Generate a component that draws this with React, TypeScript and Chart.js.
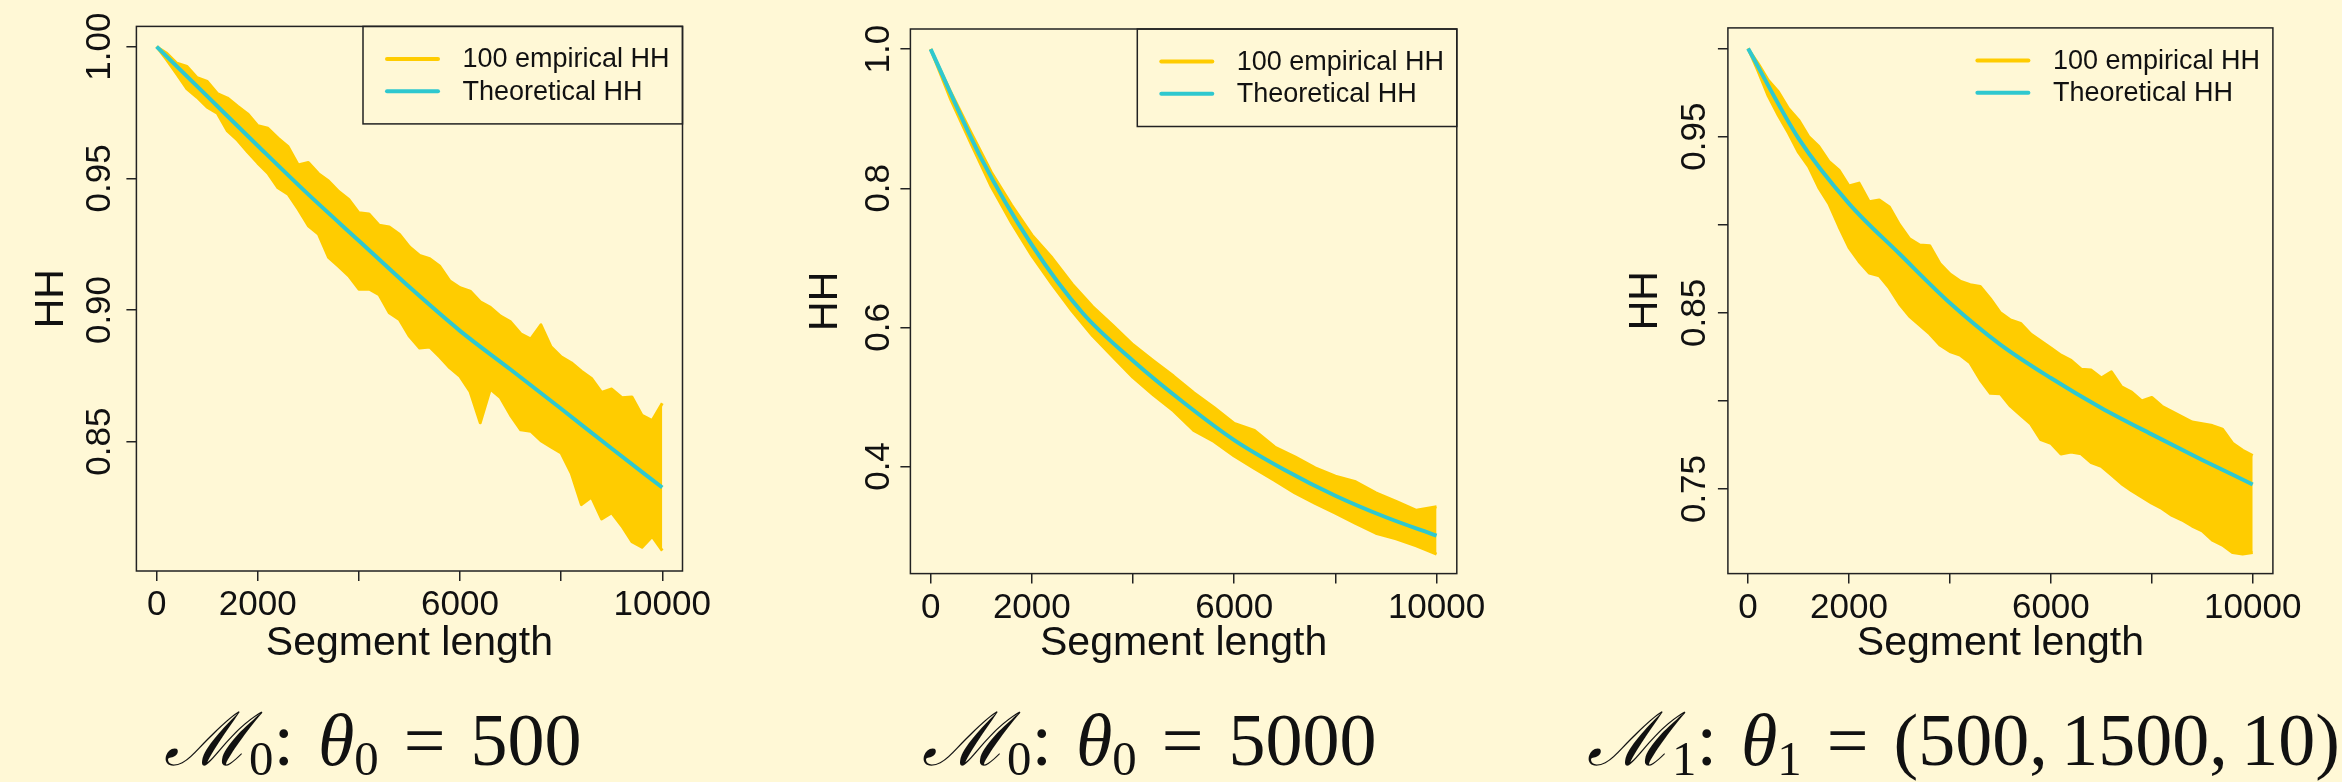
import React, { useEffect, useRef } from 'react';
import { Chart, registerables } from 'chart.js';

Chart.register(...registerables);

// ---------- data ----------
const X_GRID_FINE = [0, 200, 400, 600, 800, 1000, 1200, 1400, 1600, 1800, 2000, 2200, 2400, 2600, 2800, 3000, 3200, 3400, 3600, 3800, 4000, 4200, 4400, 4600, 4800, 5000, 5200, 5400, 5600, 5800, 6000, 6200, 6400, 6600, 6800, 7000, 7200, 7400, 7600, 7800, 8000, 8200, 8400, 8600, 8800, 9000, 9200, 9400, 9600, 9800, 10000];
const X_GRID = [0, 400, 800, 1200, 1600, 2000, 2400, 2800, 3200, 3600, 4000, 4400, 4800, 5200, 5600, 6000, 6400, 6800, 7200, 7600, 8000, 8400, 8800, 9200, 9600, 10000];
const X_THEORY = [0, 1000, 2000, 3000, 4000, 5000, 6000, 7000, 8000, 9000, 10000];
const X_TICKS = [0, 2000, 4000, 6000, 8000, 10000];
const X_TICK_LABELS = ['0', '2000', '', '6000', '', '10000'];
const LEGEND_LABELS = ['100 empirical HH', 'Theoretical HH'];
const X_TITLE = 'Segment length';
const Y_TITLE = 'HH';

// Panel 1: M0, theta0 = 500 (upper / lower edge of the 100 empirical curves)
const P1_UPPER = [1.0, 0.9975, 0.9937, 0.9925, 0.9882, 0.9868, 0.9822, 0.9805, 0.9774, 0.9745, 0.97, 0.969, 0.9653, 0.962, 0.9551, 0.956, 0.9518, 0.949, 0.945, 0.942, 0.9369, 0.9365, 0.9322, 0.9315, 0.9288, 0.924, 0.9207, 0.9195, 0.9166, 0.911, 0.9085, 0.9072, 0.9031, 0.901, 0.8977, 0.8955, 0.891, 0.889, 0.8944, 0.886, 0.8822, 0.88, 0.8768, 0.874, 0.8687, 0.87, 0.8667, 0.867, 0.86, 0.858, 0.8646];
const P1_LOWER = [1.0, 0.995, 0.9896, 0.984, 0.9808, 0.977, 0.9747, 0.968, 0.9645, 0.96, 0.9558, 0.952, 0.9464, 0.944, 0.9383, 0.932, 0.9288, 0.92, 0.9166, 0.913, 0.9079, 0.908, 0.9058, 0.899, 0.8964, 0.89, 0.8856, 0.886, 0.8822, 0.878, 0.8748, 0.869, 0.8572, 0.87, 0.8667, 0.86, 0.8545, 0.854, 0.8504, 0.848, 0.8457, 0.838, 0.8261, 0.829, 0.8207, 0.823, 0.818, 0.812, 0.8099, 0.814, 0.8086];
const P1_THEORY = [1.0, 0.9812, 0.9624, 0.9439, 0.9263, 0.9087, 0.8921, 0.8774, 0.8625, 0.8474, 0.8326];
const P1_Y_TICKS = [0.85, 0.9, 0.95, 1.0];
const P1_Y_LABELS = ['0.85', '0.90', '0.95', '1.00'];

// Panel 2: M0, theta0 = 5000
const P2_UPPER = [1.0, 0.938, 0.88, 0.823, 0.776, 0.733, 0.7, 0.662, 0.63, 0.603, 0.575, 0.552, 0.53, 0.506, 0.485, 0.462, 0.452, 0.428, 0.414, 0.398, 0.386, 0.378, 0.362, 0.35, 0.337, 0.342];
const P2_LOWER = [1.0, 0.927, 0.864, 0.802, 0.75, 0.703, 0.662, 0.623, 0.588, 0.558, 0.528, 0.503, 0.48, 0.452, 0.436, 0.415, 0.397, 0.38, 0.362, 0.347, 0.333, 0.318, 0.304, 0.296, 0.286, 0.274];
const P2_THEORY = [1.0, 0.843, 0.7185, 0.621, 0.552, 0.492, 0.438, 0.395, 0.358, 0.327, 0.3005];
const P2_Y_TICKS = [0.4, 0.6, 0.8, 1.0];
const P2_Y_LABELS = ['0.4', '0.6', '0.8', '1.0'];

// Panel 3: M1, theta1 = (500, 1500, 10)
const P3_UPPER = [1.0, 0.9915, 0.982, 0.9755, 0.966, 0.9595, 0.95, 0.9445, 0.936, 0.931, 0.922, 0.9236, 0.913, 0.914, 0.91, 0.9, 0.892, 0.8885, 0.888, 0.878, 0.872, 0.868, 0.866, 0.865, 0.858, 0.85, 0.846, 0.844, 0.838, 0.834, 0.83, 0.826, 0.823, 0.818, 0.8175, 0.813, 0.8165, 0.808, 0.805, 0.8, 0.802, 0.797, 0.794, 0.791, 0.788, 0.787, 0.786, 0.784, 0.776, 0.772, 0.769];
const P3_LOWER = [1.0, 0.987, 0.973, 0.962, 0.952, 0.941, 0.933, 0.921, 0.912, 0.899, 0.887, 0.879, 0.8726, 0.871, 0.864, 0.855, 0.848, 0.843, 0.838, 0.8317, 0.828, 0.826, 0.8216, 0.812, 0.8043, 0.804, 0.797, 0.792, 0.787, 0.778, 0.776, 0.7699, 0.771, 0.77, 0.765, 0.7628, 0.758, 0.753, 0.749, 0.7455, 0.742, 0.739, 0.735, 0.7324, 0.729, 0.7263, 0.721, 0.7182, 0.714, 0.7131, 0.714];
const P3_THEORY = [1.0, 0.949, 0.912, 0.8835, 0.8556, 0.832, 0.813, 0.796, 0.781, 0.7665, 0.7526];
const P3_Y_TICKS = [0.75, 0.8, 0.85, 0.9, 0.95, 1.0];
const P3_Y_LABELS = ['0.75', '', '0.85', '', '0.95', ''];

const CAPTION_MODEL = ['0', '0', '1'];
const CAPTION_VALUE = ['500', '5000', '(500, 1500, 10)'];

// ---------- styles ----------
const YELLOW = '#FFCC00';
const CYAN = '#2FC8CF';
const INK = '#111111';
const BOX = '#222222';
const BG = '#FFF8D6';
const SANS = '"Liberation Sans", Arial, Helvetica, sans-serif';
const SERIF = '"Liberation Serif", "Times New Roman", serif';
const CANVAS_H = 680;
const TICK_FONT = 35;
const TITLE_FONT = 41;
const LEGEND_FONT = 27;

type Area = { left: number; right: number; top: number; bottom: number };
type PanelCfg = {
  left: number;
  width: number;
  area: Area;
  yMin: number;
  yMax: number;
  yTicks: number[];
  yLabels: string[];
  xs: number[];
  upper: number[];
  lower: number[];
  theory: number[];
  hhCenter: number;
  yLabelPad: number;
  legendBox: boolean;
  captionLeft: number;
};

const PANELS: PanelCfg[] = [
  {
    left: 0, width: 780,
    area: { left: 136.4, right: 682.5, top: 26.4, bottom: 571 },
    yMin: 0.8009, yMax: 1.0077,
    yTicks: P1_Y_TICKS, yLabels: P1_Y_LABELS,
    xs: X_GRID_FINE, upper: P1_UPPER, lower: P1_LOWER, theory: P1_THEORY,
    hhCenter: 52, yLabelPad: -8.5, legendBox: true, captionLeft: 164,
  },
  {
    left: 780, width: 780,
    area: { left: 910.4, right: 1456.8, top: 29, bottom: 573.6 },
    yMin: 0.246, yMax: 1.029,
    yTicks: P2_Y_TICKS, yLabels: P2_Y_LABELS,
    xs: X_GRID, upper: P2_UPPER, lower: P2_LOWER, theory: P2_THEORY,
    hhCenter: 46, yLabelPad: -2.8, legendBox: true, captionLeft: 922,
  },
  {
    left: 1560, width: 782,
    area: { left: 1727.9, right: 2272.9, top: 27.9, bottom: 573.6 },
    yMin: 0.702, yMax: 1.0117,
    yTicks: P3_Y_TICKS, yLabels: P3_Y_LABELS,
    xs: X_GRID_FINE, upper: P3_UPPER, lower: P3_LOWER, theory: P3_THEORY,
    hhCenter: 86, yLabelPad: -11.5, legendBox: false, captionLeft: 1587,
  },
];

const toPoints = (xs: number[], ys: number[]) => xs.map((x, i) => ({ x, y: ys[i] }));

const boxPlugin = {
  id: 'plotBox',
  afterDatasetsDraw(chart: any) {
    const { ctx, chartArea } = chart;
    ctx.save();
    ctx.strokeStyle = BOX;
    ctx.lineWidth = 1.5;
    ctx.strokeRect(chartArea.left, chartArea.top, chartArea.right - chartArea.left, chartArea.bottom - chartArea.top);
    ctx.restore();
  },
};

function makeLegendPlugin(withBox: boolean) {
  return {
    id: 'rLegend',
    afterDraw(chart: any) {
      const { ctx, chartArea } = chart;
      const w = 319.5;
      const h = 97.5;
      const x0 = chartArea.right - w;
      const y0 = chartArea.top;
      const colors = [YELLOW, CYAN];
      ctx.save();
      if (withBox) {
        ctx.strokeStyle = BOX;
        ctx.lineWidth = 1.5;
        ctx.strokeRect(x0, y0, w, h);
      }
      LEGEND_LABELS.forEach((label, i) => {
        const y = y0 + 32.5 + i * 32.3;
        ctx.strokeStyle = colors[i];
        ctx.lineWidth = 4;
        ctx.lineCap = 'round';
        ctx.beginPath();
        ctx.moveTo(x0 + 24, y);
        ctx.lineTo(x0 + 75, y);
        ctx.stroke();
        ctx.fillStyle = INK;
        ctx.font = `${LEGEND_FONT}px ${SANS}`;
        ctx.textAlign = 'left';
        ctx.textBaseline = 'middle';
        ctx.fillText(label, x0 + 99.5, y + 1);
      });
      ctx.restore();
    },
  };
}

function Panel({ cfg }: { cfg: PanelCfg }) {
  const ref = useRef<HTMLCanvasElement>(null);
  useEffect(() => {
    const canvas = ref.current;
    if (!canvas) return;
    const yAxisWidth = cfg.area.left - cfg.left;
    const xAxisHeight = CANVAS_H - cfg.area.bottom;
    const rightPad = cfg.left + cfg.width - cfg.area.right;
    const chart = new Chart(canvas, {
      type: 'line',
      data: {
        datasets: [
          {
            label: LEGEND_LABELS[1],
            data: toPoints(X_THEORY, cfg.theory),
            borderColor: CYAN,
            backgroundColor: CYAN,
            borderWidth: 4,
            cubicInterpolationMode: 'monotone',
            pointRadius: 0,
            fill: false,
            order: 0,
          },
          {
            label: LEGEND_LABELS[0],
            data: toPoints(cfg.xs, cfg.upper),
            borderColor: YELLOW,
            backgroundColor: YELLOW,
            borderWidth: 3,
            borderJoinStyle: 'round',
            pointRadius: 0,
            tension: 0,
            fill: '+1',
            order: 1,
          },
          {
            label: LEGEND_LABELS[0],
            data: toPoints(cfg.xs, cfg.lower),
            borderColor: YELLOW,
            backgroundColor: YELLOW,
            borderWidth: 3,
            borderJoinStyle: 'round',
            pointRadius: 0,
            tension: 0,
            fill: false,
            order: 2,
          },
        ],
      } as any,
      options: {
        responsive: false,
        animation: false,
        devicePixelRatio: 1,
        events: [],
        layout: { padding: { top: cfg.area.top, right: rightPad, left: 0, bottom: 0 } },
        plugins: { legend: { display: false }, tooltip: { enabled: false }, title: { display: false } },
        scales: {
          x: {
            type: 'linear',
            min: -400,
            max: 10400,
            afterBuildTicks: (scale: any) => {
              scale.ticks = X_TICKS.map((v) => ({ value: v }));
            },
            afterFit: (scale: any) => {
              scale.height = xAxisHeight;
            },
            ticks: {
              autoSkip: false,
              maxRotation: 0,
              minRotation: 0,
              padding: 7,
              color: INK,
              font: { family: SANS, size: TICK_FONT, lineHeight: 1 },
              callback: (_v: any, i: number) => X_TICK_LABELS[i],
            },
            grid: { drawOnChartArea: false, drawTicks: true, tickLength: 10, color: BOX, lineWidth: 1.5 },
            border: { display: false },
            title: {
              display: true,
              text: X_TITLE,
              color: INK,
              font: { family: SANS, size: TITLE_FONT, lineHeight: 1 },
              padding: { top: 0, bottom: 16 },
            },
          },
          y: {
            type: 'linear',
            min: cfg.yMin,
            max: cfg.yMax,
            afterBuildTicks: (scale: any) => {
              scale.ticks = cfg.yTicks.map((v) => ({ value: v }));
            },
            afterFit: (scale: any) => {
              scale.width = yAxisWidth;
            },
            ticks: {
              autoSkip: false,
              minRotation: 90,
              maxRotation: 90,
              crossAlign: 'center',
              padding: cfg.yLabelPad,
              color: INK,
              font: { family: SANS, size: TICK_FONT, lineHeight: 1 },
              callback: (_v: any, i: number) => cfg.yLabels[i],
            },
            grid: { drawOnChartArea: false, drawTicks: true, tickLength: 10, color: BOX, lineWidth: 1.5 },
            border: { display: false },
            title: {
              display: true,
              text: Y_TITLE,
              color: INK,
              font: { family: SANS, size: TITLE_FONT, lineHeight: 1 },
              padding: { top: cfg.hhCenter - TITLE_FONT / 2, bottom: 0 },
            },
          },
        },
      } as any,
      plugins: [boxPlugin, makeLegendPlugin(cfg.legendBox)],
    });
    return () => chart.destroy();
  }, [cfg]);
  return (
    <canvas
      ref={ref}
      width={cfg.width}
      height={CANVAS_H}
      style={{ position: 'absolute', left: cfg.left, top: 0, width: cfg.width, height: CANVAS_H }}
    />
  );
}

function Caption({ idx, left }: { idx: number; left: number }) {
  const sub: React.CSSProperties = { fontSize: '0.66em', verticalAlign: '-0.2em', lineHeight: 0 };
  return (
    <div
      style={{
        position: 'absolute',
        left,
        top: 702,
        fontFamily: SERIF,
        fontSize: 74,
        lineHeight: 1,
        color: INK,
        whiteSpace: 'nowrap',
      }}
    >
      <span style={{ fontFamily: '"DejaVu Serif", serif', fontStyle: 'italic' }}>ℳ</span>
      <span style={sub}>{CAPTION_MODEL[idx]}</span>
      <span>:</span>
      <i style={{ marginLeft: 24 }}>θ</i>
      <span style={sub}>{CAPTION_MODEL[idx]}</span>
      <span style={{ marginLeft: 25 }}>=</span>
      <span style={{ marginLeft: 25, wordSpacing: -5 }}>{CAPTION_VALUE[idx]}</span>
    </div>
  );
}

export default function App() {
  return (
    <div
      style={{
        position: 'absolute',
        left: 0,
        top: 0,
        width: 2342,
        height: 782,
        background: BG,
        overflow: 'hidden',
      }}
    >
      {PANELS.map((cfg, i) => (
        <Panel key={i} cfg={cfg} />
      ))}
      {PANELS.map((cfg, i) => (
        <Caption key={'c' + i} idx={i} left={cfg.captionLeft} />
      ))}
    </div>
  );
}
